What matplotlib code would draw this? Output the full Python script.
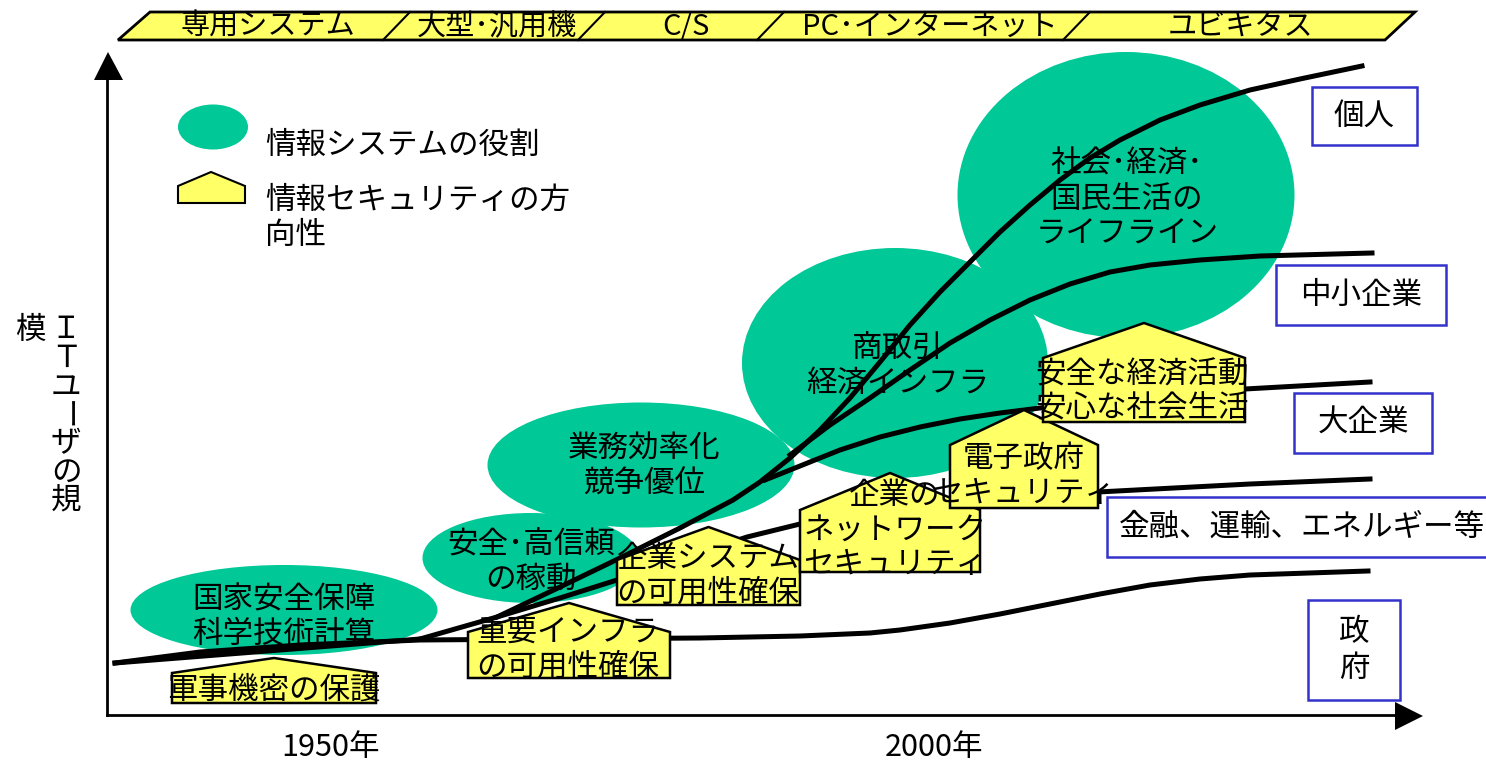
import numpy as np
import matplotlib
matplotlib.use("Agg")
import matplotlib.pyplot as plt
from matplotlib.patches import Ellipse, Polygon, Rectangle

plt.rcParams['font.family'] = ['Noto Sans CJK JP', 'DejaVu Sans']

# era banner
eras = ["専用システム", "大型･汎用機", "C/S", "PC･インターネット", "ユビキタス"]
era_x = [268, 497, 686, 930, 1240]
era_div = [383, 578, 757, 1063]

# user curves (x, y in picture pixels)
gov_x = [115, 200, 300, 420, 550, 700, 800, 870, 900, 950, 1000, 1050, 1100, 1150, 1200, 1250, 1368]
gov_y = [663, 652, 645, 640, 639, 638, 636, 633, 630, 623, 614, 604, 594, 585, 579, 575, 571]
fin_x = [420, 497, 560, 617, 747, 800, 900, 1000, 1098, 1250, 1370]
fin_y = [639, 617, 598, 580, 537, 524, 508, 498, 492, 484, 479]
big_x = [765, 800, 840, 880, 920, 960, 1000, 1040, 1100, 1160, 1245, 1370]
big_y = [480, 466, 450, 437, 427, 419, 413, 408, 402, 396, 389, 382]
sme_x = [790, 830, 870, 910, 950, 990, 1030, 1070, 1110, 1150, 1200, 1260, 1372]
sme_y = [455, 425, 398, 370, 343, 320, 300, 284, 272, 265, 260, 256, 253]
ind_x = [497, 560, 620, 680, 733, 760, 790, 820, 850, 880, 910, 940, 970, 1000,
         1030, 1060, 1090, 1120, 1160, 1200, 1250, 1300, 1362]
ind_y = [617, 587, 558, 528, 500, 482, 458, 430, 398, 362, 325, 292, 262, 232,
         205, 180, 158, 140, 120, 105, 90, 79, 66]

# roles of information systems (ellipses)
roles = ["国家安全保障\n科学技術計算", "安全･高信頼\nの稼動", "業務効率化\n競争優位",
         "商取引\n経済インフラ", "社会･経済･\n国民生活の\nライフライン"]
role_ell = [(284, 610, 307, 90), (531, 558, 217, 90), (641, 465, 307, 125),
            (895, 363, 306, 230), (1126, 195, 337, 286)]
role_txt = [(284, 617), (531, 562), (644, 467), (898, 366), (1127, 199)]

# security direction (house shapes): left, right, peak, eave, bottom
secs = ["軍事機密の保護", "重要インフラ\nの可用性確保", "企業システム\nの可用性確保",
        "企業の\nネットワーク\nセキュリティ", "電子政府\nセキュリティ",
        "安全な経済活動\n安心な社会生活"]
sec_box = [(172, 376, 658, 673, 703), (468, 670, 603, 632, 678), (617, 800, 527, 560, 605),
           (800, 980, 473, 510, 572), (950, 1098, 410, 445, 508), (1043, 1245, 323, 358, 422)]
sec_txt = [(274, 690), (568, 650), (708, 576), (895, 530), (1024, 476), (1142, 392)]

# user groups
groups = ["個人", "中小企業", "大企業", "金融、運輸、エネルギー等", "政府"]
group_box = [(1312, 87, 105, 58), (1276, 265, 170, 60), (1294, 393, 138, 60),
             (1107, 497, 390, 60), (1308, 600, 92, 100)]

green = "#00C896"
yellow = "#FFFF66"
fs = 22

fig = plt.figure(figsize=(14.86, 7.61), dpi=100)
ax = fig.add_axes([0, 0, 1, 1])
ax.set_xlim(0, 1486)
ax.set_ylim(761, 0)
ax.axis("off")

# banner
ax.add_patch(Polygon([(118, 40), (150, 12), (1415, 12), (1385, 40)], closed=True,
                     fc=yellow, ec="black", lw=2, zorder=2))
for d in era_div:
    ax.plot([d, d + 27], [40, 12], color="black", lw=1.5, zorder=3)
for t, x in zip(eras, era_x):
    ax.text(x, 27, t, ha="center", va="center", fontsize=21, zorder=4)

# axes arrows
ax.plot([107, 107], [715, 78], color="black", lw=2, zorder=3)
ax.add_patch(Polygon([(94, 80), (123, 80), (108, 52)], closed=True, fc="black", ec="none", zorder=3))
ax.plot([107, 1397], [715, 715], color="black", lw=2, zorder=3)
ax.add_patch(Polygon([(1395, 702), (1395, 730), (1423, 716)], closed=True, fc="black", ec="none", zorder=3))
ax.text(331, 748, "1950年", ha="center", va="center", fontsize=fs)
ax.text(934, 748, "2000年", ha="center", va="center", fontsize=fs)

# vertical y label
ylab = "ＩＴユーザの規"
for i, ch in enumerate(ylab):
    ax.text(66, 330 + i * 28.5, ch, ha="center", va="center", fontsize=fs,
            rotation=-90 if ch == "ー" else 0)
ax.text(30, 330, "模", ha="center", va="center", fontsize=fs)

# legend
ax.add_patch(Ellipse((213, 127), 70, 45, fc=green, ec="none"))
ax.text(265, 145, "情報システムの役割", ha="left", va="center", fontsize=fs)
ax.add_patch(Polygon([(178, 203), (178, 186), (211, 172), (245, 186), (245, 203)], closed=True,
                     fc=yellow, ec="black", lw=1.5))
ax.text(265, 218, "情報セキュリティの方\n向性", ha="left", va="center", fontsize=fs, linespacing=1.2)

# ellipses
for (cx, cy, w, h) in role_ell:
    ax.add_patch(Ellipse((cx, cy), w, h, fc=green, ec="none", zorder=1))

# curves
for xs, ys in [(gov_x, gov_y), (fin_x, fin_y), (big_x, big_y), (sme_x, sme_y), (ind_x, ind_y)]:
    ax.plot(xs, ys, color="black", lw=3.6, solid_joinstyle="round", zorder=2)
ax.plot([115, 420], [663, 639], color="black", lw=3.6, zorder=2)

# houses
for (l, r, p, e, b) in sec_box:
    ax.add_patch(Polygon([(l, b), (l, e), ((l + r) / 2, p), (r, e), (r, b)], closed=True,
                         fc=yellow, ec="black", lw=1.8, zorder=5))

for t, (x, y) in zip(roles, role_txt):
    ax.text(x, y, t, ha="center", va="center", fontsize=fs, linespacing=1.15, zorder=6)
for t, (x, y) in zip(secs, sec_txt):
    ax.text(x, y, t, ha="center", va="center", fontsize=fs, linespacing=1.15, zorder=6)

# group boxes
for t, (x, y, w, h) in zip(groups, group_box):
    ax.add_patch(Rectangle((x, y), w, h, fc="white", ec="#3333CC", lw=1.8, zorder=5))
    if t == "政府":
        ax.text(x + w / 2, y + h / 2, "政\n府", ha="center", va="center", fontsize=fs,
                linespacing=1.25, zorder=6)
    elif t.startswith("金融"):
        ax.text(1302, y + h / 2, t, ha="center", va="center", fontsize=fs, zorder=6)
    else:
        ax.text(x + w / 2, y + h / 2, t, ha="center", va="center", fontsize=fs, zorder=6)

fig.savefig("out.png", dpi=100)
